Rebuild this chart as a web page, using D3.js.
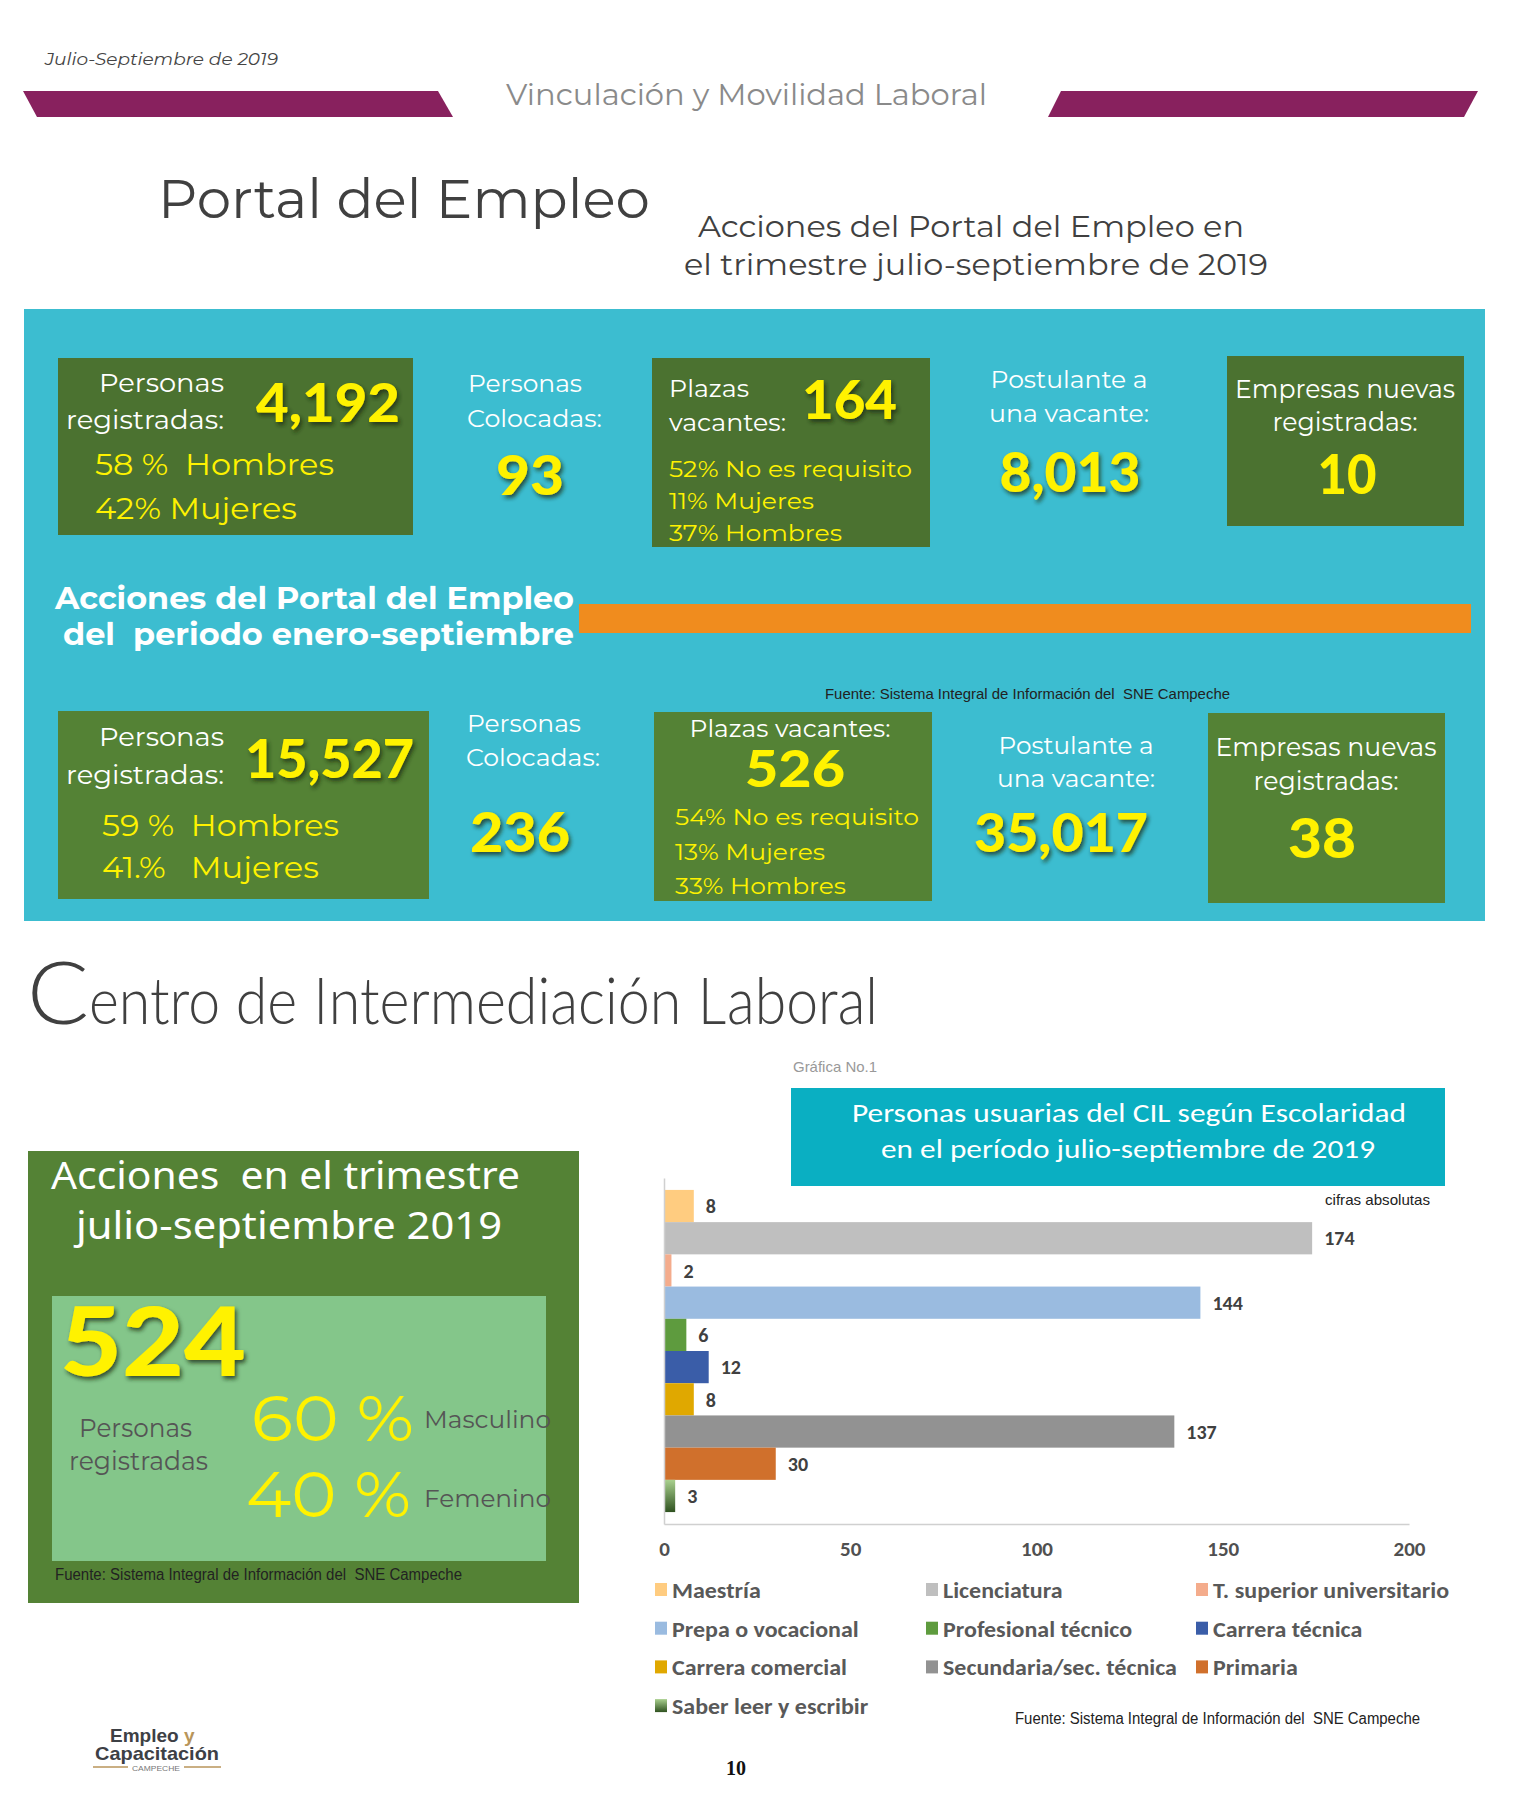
<!DOCTYPE html>
<meta charset="utf-8">
<style>
  body { margin: 0; background: #fff; }
  text { white-space: pre; }
</style>
<script src="https://d3js.org/d3.v7.min.js"></script>
<div id="page"></div>
<script>

// ---- data ----
// Portal del Empleo: [julio-septiembre, enero-septiembre]
var registered = [4192, 15527];
var registeredShare = [["58 %  Hombres", "42% Mujeres"], ["59 %  Hombres", "41.%   Mujeres"]];
var placed = [93, 236];
var vacancies = [164, 526];
var vacancyShare = [["52% No es requisito", "11% Mujeres", "37% Hombres"],
                    ["54% No es requisito", "13% Mujeres", "33% Hombres"]];
var applicants = [8013, 35017];
var newCompanies = [10, 38];

// Centro de Intermediación Laboral
var cilRegistered = 524;
var cilShare = [60, 40];
var cilShareLabels = ["Masculino", "Femenino"];

// Gráfica No.1
var levels = ["Maestría", "Licenciatura", "T. superior universitario", "Prepa o vocacional",
              "Profesional técnico", "Carrera técnica", "Carrera comercial",
              "Secundaria/sec. técnica", "Primaria", "Saber leer y escribir"];
var users = [8, 174, 2, 144, 6, 12, 8, 137, 30, 3];
var levelColors = ["#FFCC80", "#BFBFBF", "#F4AC8C", "#9ABBE0", "#5E9B3E",
                   "#3A5DA8", "#E0A800", "#929292", "#D0702C", "url(#greenGrad)"];
var xTicks = [0, 50, 100, 150, 200];

var fmt = d3.format(",");
var sans = "Montserrat, 'Open Sans', sans-serif";
var heavy = "'Montserrat ExtraBold', Lato, sans-serif";
var calibri = "Calibri, Carlito, Lato, sans-serif";
var narrow = "'Arial Narrow', 'Liberation Sans Narrow', 'Liberation Sans', sans-serif";

var svg = d3.select("#page").append("svg")
    .attr("width", 1515)
    .attr("height", 1800);

var defs = svg.append("defs");
defs.append("filter").attr("id", "shadow")
    .attr("x", "-20%").attr("y", "-20%").attr("width", "140%").attr("height", "150%")
  .append("feDropShadow")
    .attr("dx", 2).attr("dy", 3).attr("stdDeviation", 2.2)
    .attr("flood-color", "#1d2b12").attr("flood-opacity", 0.75);
var gg = defs.append("linearGradient").attr("id", "greenGrad")
    .attr("x1", 0).attr("y1", 0).attr("x2", 0).attr("y2", 1);
gg.append("stop").attr("offset", "0%").attr("stop-color", "#A9D08E");
gg.append("stop").attr("offset", "100%").attr("stop-color", "#2F5220");

// text helper: x, baseline, string, size, fill, opts
function label(x, y, str, size, fill, o) {
  o = o || {};
  var t = svg.append("text")
    .attr("x", x).attr("y", y)
    .attr("font-family", o.family || sans)
    .attr("font-size", size)
    .attr("font-weight", o.weight || 400)
    .attr("font-style", o.style || "normal")
    .attr("text-anchor", o.anchor || "start")
    .attr("fill", fill)
    .text(str);
  if (o.width) t.attr("textLength", o.width).attr("lengthAdjust", "spacingAndGlyphs");
  if (o.shadow) t.attr("filter", "url(#shadow)");
  return t;
}
function box(x, y, w, h, fill) {
  svg.append("rect").attr("x", x).attr("y", y).attr("width", w).attr("height", h).attr("fill", fill);
}

// ---- header ----
label(45, 65, "Julio-Septiembre de 2019", 17, "#444", {style: "italic", width: 233});
svg.append("polygon").attr("points", "23,91 438,91 453,117 37,117").attr("fill", "#88215E");
svg.append("polygon").attr("points", "1061,91 1478,91 1464,117 1048,117").attr("fill", "#88215E");
label(506, 105, "Vinculación y Movilidad Laboral", 29, "#8a8a8a", {width: 481});

label(158, 218, "Portal del Empleo", 54, "#404040", {width: 492});
label(698, 237, "Acciones del Portal del Empleo en", 30, "#404040", {width: 546});
label(684, 275, "el trimestre julio-septiembre de 2019", 30, "#404040", {width: 584});

// ---- Portal del Empleo panel ----
box(24, 309, 1461, 612, "#3CBDD0");

var dark = "#4B7230", mid = "#548235", yel = "#FFF200";

// row 1: trimestre
box(58, 358, 355, 177, dark);
label(99, 392, "Personas", 27, "#fff", {width: 125});
label(66, 429, "registradas:", 27, "#fff", {width: 158});
label(256, 422, fmt(registered[0]), 54, yel, {family: heavy, weight: 900, width: 144, shadow: true});
label(95, 475, registeredShare[0][0], 30, yel, {width: 239});
label(95, 519, registeredShare[0][1], 30, yel, {width: 202});

label(468, 392, "Personas", 25, "#fff", {width: 114});
label(467, 427, "Colocadas:", 25, "#fff", {width: 135});
label(530, 495, fmt(placed[0]), 56, yel, {family: heavy, weight: 900, anchor: "middle", width: 68, shadow: true});

box(652, 358, 278, 189, dark);
label(669, 397, "Plazas", 25, "#fff", {width: 80});
label(669, 431, "vacantes:", 25, "#fff", {width: 117});
label(802, 419, fmt(vacancies[0]), 54, yel, {family: heavy, weight: 900, width: 95, shadow: true});
vacancyShare[0].forEach(function(s, i) {
  label(669, 477 + i * 32, s, 23, yel, {width: [243, 145, 173][i]});
});

label(1069, 388, "Postulante a", 25, "#fff", {anchor: "middle", width: 157});
label(1069, 422, "una vacante:", 25, "#fff", {anchor: "middle", width: 160});
label(1070, 492, fmt(applicants[0]), 56, yel, {family: heavy, weight: 900, anchor: "middle", width: 141, shadow: true});

box(1227, 356, 237, 170, dark);
label(1345, 398, "Empresas nuevas", 26, "#fff", {anchor: "middle", width: 220});
label(1345, 431, "registradas:", 26, "#fff", {anchor: "middle", width: 145});
label(1347, 494, fmt(newCompanies[0]), 56, yel, {family: heavy, weight: 900, anchor: "middle", width: 59});

// middle band
label(55, 609, "Acciones del Portal del Empleo", 30, "#fff", {weight: 700, width: 519});
label(63, 645, "del  periodo enero-septiembre", 30, "#fff", {weight: 700, width: 511});
box(579, 604, 892, 29, "#F08C1E");
label(825, 699, "Fuente: Sistema Integral de Información del  SNE Campeche", 15, "#222", {family: narrow, width: 405});

// row 2: enero-septiembre
box(58, 711, 371, 188, mid);
label(99, 746, "Personas", 27, "#fff", {width: 125});
label(66, 784, "registradas:", 27, "#fff", {width: 158});
label(245, 778, fmt(registered[1]), 54, yel, {family: heavy, weight: 900, width: 169, shadow: true});
label(102, 836, registeredShare[1][0], 30, yel, {width: 237});
label(102, 878, registeredShare[1][1], 30, yel, {width: 217});

label(467, 732, "Personas", 25, "#fff", {width: 114});
label(466, 766, "Colocadas:", 25, "#fff", {width: 134});
label(520, 852, fmt(placed[1]), 56, yel, {family: heavy, weight: 900, anchor: "middle", width: 100, shadow: true});

box(654, 712, 278, 189, mid);
label(790, 737, "Plazas vacantes:", 25, "#fff", {anchor: "middle", width: 201});
label(795, 787, fmt(vacancies[1]), 52, yel, {family: heavy, weight: 900, anchor: "middle", width: 100});
vacancyShare[1].forEach(function(s, i) {
  label(675, 825 + i * 34.5, s, 23, yel, {width: [244, 150, 171][i]});
});

label(1076, 754, "Postulante a", 25, "#fff", {anchor: "middle", width: 155});
label(1076, 787, "una vacante:", 25, "#fff", {anchor: "middle", width: 158});
label(1061, 852, fmt(applicants[1]), 54, yel, {family: heavy, weight: 900, anchor: "middle", width: 174, shadow: true});

box(1208, 713, 237, 190, mid);
label(1326, 756, "Empresas nuevas", 26, "#fff", {anchor: "middle", width: 221});
label(1326, 790, "registradas:", 26, "#fff", {anchor: "middle", width: 145});
label(1322, 858, fmt(newCompanies[1]), 56, yel, {family: heavy, weight: 900, anchor: "middle", width: 68});

// ---- Centro de Intermediación Laboral ----
// big round C, then the rest squeezed evenly so the line ends at x = 877
svg.append("text")
    .attr("x", 27).attr("y", 1024)
    .attr("font-family", "Lato, 'Open Sans', sans-serif")
    .attr("font-weight", 300)
    .attr("font-size", 86)
    .attr("fill", "#404040")
    .attr("textLength", 62).attr("lengthAdjust", "spacingAndGlyphs")
    .text("C");
var cilParts = ["entro de ", "I", "ntermediación ", "L", "aboral"];
var cilTexts = cilParts.map(function(p) {
  return svg.append("text")
    .attr("y", 1024)
    .attr("font-family", "Lato, 'Open Sans', sans-serif")
    .attr("font-weight", 300)
    .attr("font-size", 65)
    .attr("fill", "#404040")
    .text(p);
});
var cilW = cilTexts.map(function(t) { return t.node().getComputedTextLength(); });
var cilX = 89, cilK = (879 - cilX) / d3.sum(cilW);
cilTexts.forEach(function(t, i) {
  t.attr("x", cilX).attr("textLength", cilW[i] * cilK - 1).attr("lengthAdjust", "spacingAndGlyphs");
  cilX += cilW[i] * cilK;
});

box(28, 1151, 551, 452, mid);
label(51, 1189, "Acciones  en el trimestre", 39, "#fff", {family: "'Noto Sans', sans-serif", width: 469});
label(76, 1239, "julio-septiembre 2019", 39, "#fff", {family: "'Noto Sans', sans-serif", width: 426});
box(52, 1296, 494, 265, "#84C68A");
label(60, 1376, cilRegistered, 96, yel, {family: heavy, weight: 900, width: 186, shadow: true});
label(79, 1437, "Personas", 26, "#555", {width: 113});
label(69, 1470, "registradas", 26, "#555", {width: 139});
cilShare.forEach(function(v, i) {
  label([251, 246][i], [1441, 1517][i], v + " %", 64, yel, {width: [163, 165][i]});
  label(424, [1428, 1507][i], cilShareLabels[i], 25, "#555", {width: 127});
});
label(55, 1580, "Fuente: Sistema Integral de Información del  SNE Campeche", 16, "#222", {family: narrow, width: 407});

// ---- Gráfica No.1 ----
label(793, 1072, "Gráfica No.1", 15, "#999", {family: narrow, width: 84});
box(791, 1088, 654, 98, "#0AAFC2");
label(1129, 1122, "Personas usuarias del CIL según Escolaridad", 27, "#fff", {family: calibri, anchor: "middle", width: 554});
label(1128, 1158, "en el período julio-septiembre de 2019", 27, "#fff", {family: calibri, anchor: "middle", width: 494});
label(1325, 1205, "cifras absolutas", 15, "#222", {family: narrow, width: 105});

var x = d3.scaleLinear().domain([0, 200]).range([664, 1409]);
var y = d3.scaleBand().domain(levels).range([1178, 1524]).paddingInner(0).paddingOuter(0.37);

svg.append("g").selectAll("rect")
  .data(levels)
  .enter().append("rect")
    .attr("x", x(0))
    .attr("y", function(d) { return y(d); })
    .attr("height", y.bandwidth())
    .attr("width", function(d, i) { return x(users[i]) - x(0); })
    .attr("fill", function(d, i) { return levelColors[i]; });

svg.append("g").selectAll("text")
  .data(levels)
  .enter().append("text")
    .attr("x", function(d, i) { return x(users[i]) + 12; })
    .attr("y", function(d) { return y(d) + y.bandwidth() / 2; })
    .attr("dy", "0.36em")
    .attr("font-family", calibri)
    .attr("font-size", 20)
    .attr("font-weight", 600)
    .attr("fill", "#404040")
    .text(function(d, i) { return users[i]; });

var xAxis = svg.append("g")
    .attr("transform", "translate(0,1524)")
    .call(d3.axisBottom(x).tickValues(xTicks).tickSize(0).tickPadding(17));
xAxis.select(".domain").attr("stroke", "#d0d0d0").attr("stroke-width", 1.5);
xAxis.selectAll("text").attr("font-family", calibri).attr("font-size", 21)
    .attr("font-weight", 600).attr("fill", "#505050");

var yAxis = svg.append("g")
    .attr("transform", "translate(664,0)")
    .call(d3.axisLeft(y).tickSize(0).tickFormat(""));
yAxis.select(".domain").attr("stroke", "#d0d0d0").attr("stroke-width", 1.5);

// legend, 3 columns
var legend = svg.append("g").selectAll("g")
  .data(levels)
  .enter().append("g")
    .attr("transform", function(d, i) {
      return "translate(" + [655, 926, 1196][i % 3] + "," + (1598 + Math.floor(i / 3) * 38.7) + ")";
    });
legend.append("rect")
    .attr("y", -15).attr("width", 12).attr("height", 13)
    .attr("fill", function(d, i) { return levelColors[i]; });
legend.append("text")
    .attr("x", 17)
    .attr("font-family", calibri)
    .attr("font-size", 22)
    .attr("font-weight", 600)
    .attr("fill", "#595959")
    .text(function(d) { return d; })
    .each(function() {
      // the reference face is wider than the local one
      var w = this.getComputedTextLength();
      d3.select(this).attr("textLength", w * 1.09).attr("lengthAdjust", "spacingAndGlyphs");
    });

label(1015, 1724, "Fuente: Sistema Integral de Información del  SNE Campeche", 16, "#222", {family: narrow, width: 405});

// ---- footer ----
var logoFont = "'Liberation Sans', Arial, sans-serif";
label(110, 1742, "Empleo ", 19, "#3D4045", {family: logoFont, weight: 700})
  .append("tspan").attr("fill", "#B8955A").text("y");
label(95, 1760, "Capacitación", 19, "#3D4045", {family: logoFont, weight: 700, width: 124});
svg.append("line").attr("x1", 93).attr("x2", 128).attr("y1", 1767).attr("y2", 1767).attr("stroke", "#B8955A").attr("stroke-width", 1.5);
svg.append("line").attr("x1", 184).attr("x2", 221).attr("y1", 1767).attr("y2", 1767).attr("stroke", "#B8955A").attr("stroke-width", 1.5);
label(156, 1771, "CAMPECHE", 7, "#777", {family: logoFont, anchor: "middle", width: 48});
label(736, 1775, "10", 20, "#111", {family: "'Liberation Serif', 'Times New Roman', serif", weight: 700, anchor: "middle"});

</script>
